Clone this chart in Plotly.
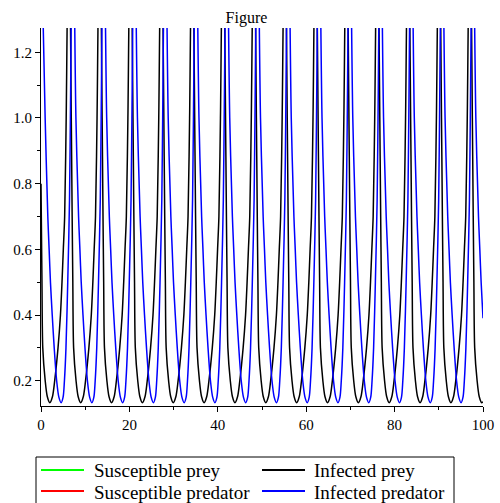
import plotly.graph_objects as go

# ---------------- data ----------------
# Infected prey (black)
black_t = [
    0.00, 0.07, 0.22, 0.40, 0.95, 1.42,
    2.00, 2.60, 3.10, 3.85, 4.40, 4.75, 5.05, 5.35, 5.70, 6.30, 6.85, 7.05, 7.20, 7.38, 7.93, 8.40,
    8.98, 9.58, 10.08, 10.83, 11.38, 11.73, 12.03, 12.33, 12.68, 13.28, 13.83, 14.03, 14.18, 14.36, 14.91, 15.38,
    15.96, 16.56, 17.06, 17.81, 18.36, 18.71, 19.01, 19.31, 19.66, 20.26, 20.81, 21.01, 21.16, 21.34, 21.89, 22.36,
    22.94, 23.54, 24.04, 24.79, 25.34, 25.69, 25.99, 26.29, 26.64, 27.24, 27.79, 27.99, 28.14, 28.32, 28.87, 29.34,
    29.92, 30.52, 31.02, 31.77, 32.32, 32.67, 32.97, 33.27, 33.62, 34.22, 34.77, 34.97, 35.12, 35.30, 35.85, 36.32,
    36.90, 37.50, 38.00, 38.75, 39.30, 39.65, 39.95, 40.25, 40.60, 41.20, 41.75, 41.95, 42.10, 42.28, 42.83, 43.30,
    43.88, 44.48, 44.98, 45.73, 46.28, 46.63, 46.93, 47.23, 47.58, 48.18, 48.73, 48.93, 49.08, 49.26, 49.81, 50.28,
    50.86, 51.46, 51.96, 52.71, 53.26, 53.61, 53.91, 54.21, 54.56, 55.16, 55.71, 55.91, 56.06, 56.24, 56.79, 57.26,
    57.84, 58.44, 58.94, 59.69, 60.24, 60.59, 60.89, 61.19, 61.54, 62.14, 62.69, 62.89, 63.04, 63.22, 63.77, 64.24,
    64.82, 65.42, 65.92, 66.67, 67.22, 67.57, 67.87, 68.17, 68.52, 69.12, 69.67, 69.87, 70.02, 70.20, 70.75, 71.22,
    71.80, 72.40, 72.90, 73.65, 74.20, 74.55, 74.85, 75.15, 75.50, 76.10, 76.65, 76.85, 77.00, 77.18, 77.73, 78.20,
    78.78, 79.38, 79.88, 80.63, 81.18, 81.53, 81.83, 82.13, 82.48, 83.08, 83.63, 83.83, 83.98, 84.16, 84.71, 85.18,
    85.76, 86.36, 86.86, 87.61, 88.16, 88.51, 88.81, 89.11, 89.46, 90.06, 90.61, 90.81, 90.96, 91.14, 91.69, 92.16,
    92.74, 93.34, 93.84, 94.59, 95.14, 95.49, 95.79, 96.09, 96.44, 97.04, 97.59, 97.79, 97.94, 98.12, 98.67, 99.14,
    99.72, 100.00,
]
black_y = [
    0.80, 0.70, 0.50, 0.30, 0.20, 0.152,
    0.133, 0.152, 0.20, 0.30, 0.40, 0.50, 0.60, 0.70, 1.00, 1.70, 1.00, 0.70, 0.50, 0.30, 0.20, 0.152,
    0.133, 0.152, 0.20, 0.30, 0.40, 0.50, 0.60, 0.70, 1.00, 1.70, 1.00, 0.70, 0.50, 0.30, 0.20, 0.152,
    0.133, 0.152, 0.20, 0.30, 0.40, 0.50, 0.60, 0.70, 1.00, 1.70, 1.00, 0.70, 0.50, 0.30, 0.20, 0.152,
    0.133, 0.152, 0.20, 0.30, 0.40, 0.50, 0.60, 0.70, 1.00, 1.70, 1.00, 0.70, 0.50, 0.30, 0.20, 0.152,
    0.133, 0.152, 0.20, 0.30, 0.40, 0.50, 0.60, 0.70, 1.00, 1.70, 1.00, 0.70, 0.50, 0.30, 0.20, 0.152,
    0.133, 0.152, 0.20, 0.30, 0.40, 0.50, 0.60, 0.70, 1.00, 1.70, 1.00, 0.70, 0.50, 0.30, 0.20, 0.152,
    0.133, 0.152, 0.20, 0.30, 0.40, 0.50, 0.60, 0.70, 1.00, 1.70, 1.00, 0.70, 0.50, 0.30, 0.20, 0.152,
    0.133, 0.152, 0.20, 0.30, 0.40, 0.50, 0.60, 0.70, 1.00, 1.70, 1.00, 0.70, 0.50, 0.30, 0.20, 0.152,
    0.133, 0.152, 0.20, 0.30, 0.40, 0.50, 0.60, 0.70, 1.00, 1.70, 1.00, 0.70, 0.50, 0.30, 0.20, 0.152,
    0.133, 0.152, 0.20, 0.30, 0.40, 0.50, 0.60, 0.70, 1.00, 1.70, 1.00, 0.70, 0.50, 0.30, 0.20, 0.152,
    0.133, 0.152, 0.20, 0.30, 0.40, 0.50, 0.60, 0.70, 1.00, 1.70, 1.00, 0.70, 0.50, 0.30, 0.20, 0.152,
    0.133, 0.152, 0.20, 0.30, 0.40, 0.50, 0.60, 0.70, 1.00, 1.70, 1.00, 0.70, 0.50, 0.30, 0.20, 0.152,
    0.133, 0.152, 0.20, 0.30, 0.40, 0.50, 0.60, 0.70, 1.00, 1.70, 1.00, 0.70, 0.50, 0.30, 0.20, 0.152,
    0.133, 0.152, 0.20, 0.30, 0.40, 0.50, 0.60, 0.70, 1.00, 1.70, 1.00, 0.70, 0.50, 0.30, 0.20, 0.152,
    0.133, 0.136,
]

# Infected predator (blue)
blue_t = [
    0.00, 0.94, 1.54, 1.84, 2.14, 2.54, 2.99, 3.54, 4.04,
    4.55, 5.00, 5.30, 5.65, 6.05, 6.45, 6.65, 7.20, 7.90, 8.50, 8.80, 9.10, 9.50, 9.95, 10.50, 11.00,
    11.51, 11.96, 12.26, 12.61, 13.01, 13.41, 13.61, 14.16, 14.86, 15.46, 15.76, 16.06, 16.46, 16.91, 17.46, 17.96,
    18.47, 18.92, 19.22, 19.57, 19.97, 20.37, 20.57, 21.12, 21.82, 22.42, 22.72, 23.02, 23.42, 23.87, 24.42, 24.92,
    25.43, 25.88, 26.18, 26.53, 26.93, 27.33, 27.53, 28.08, 28.78, 29.38, 29.68, 29.98, 30.38, 30.83, 31.38, 31.88,
    32.39, 32.84, 33.14, 33.49, 33.89, 34.29, 34.49, 35.04, 35.74, 36.34, 36.64, 36.94, 37.34, 37.79, 38.34, 38.84,
    39.35, 39.80, 40.10, 40.45, 40.85, 41.25, 41.45, 42.00, 42.70, 43.30, 43.60, 43.90, 44.30, 44.75, 45.30, 45.80,
    46.31, 46.76, 47.06, 47.41, 47.81, 48.21, 48.41, 48.96, 49.66, 50.26, 50.56, 50.86, 51.26, 51.71, 52.26, 52.76,
    53.27, 53.72, 54.02, 54.37, 54.77, 55.17, 55.37, 55.92, 56.62, 57.22, 57.52, 57.82, 58.22, 58.67, 59.22, 59.72,
    60.23, 60.68, 60.98, 61.33, 61.73, 62.13, 62.33, 62.88, 63.58, 64.18, 64.48, 64.78, 65.18, 65.63, 66.18, 66.68,
    67.19, 67.64, 67.94, 68.29, 68.69, 69.09, 69.29, 69.84, 70.54, 71.14, 71.44, 71.74, 72.14, 72.59, 73.14, 73.64,
    74.15, 74.60, 74.90, 75.25, 75.65, 76.05, 76.25, 76.80, 77.50, 78.10, 78.40, 78.70, 79.10, 79.55, 80.10, 80.60,
    81.11, 81.56, 81.86, 82.21, 82.61, 83.01, 83.21, 83.76, 84.46, 85.06, 85.36, 85.66, 86.06, 86.51, 87.06, 87.56,
    88.07, 88.52, 88.82, 89.17, 89.57, 89.97, 90.17, 90.72, 91.42, 92.02, 92.32, 92.62, 93.02, 93.47, 94.02, 94.52,
    95.03, 95.48, 95.78, 96.13, 96.53, 96.93, 97.13, 97.68, 98.38, 98.98, 99.28, 99.58, 100.00,
]
blue_y = [
    1.60, 1.00, 0.70, 0.60, 0.50, 0.40, 0.30, 0.20, 0.15,
    0.133, 0.15, 0.20, 0.30, 0.50, 0.75, 1.00, 1.70, 1.00, 0.70, 0.60, 0.50, 0.40, 0.30, 0.20, 0.15,
    0.133, 0.15, 0.20, 0.30, 0.50, 0.75, 1.00, 1.70, 1.00, 0.70, 0.60, 0.50, 0.40, 0.30, 0.20, 0.15,
    0.133, 0.15, 0.20, 0.30, 0.50, 0.75, 1.00, 1.70, 1.00, 0.70, 0.60, 0.50, 0.40, 0.30, 0.20, 0.15,
    0.133, 0.15, 0.20, 0.30, 0.50, 0.75, 1.00, 1.70, 1.00, 0.70, 0.60, 0.50, 0.40, 0.30, 0.20, 0.15,
    0.133, 0.15, 0.20, 0.30, 0.50, 0.75, 1.00, 1.70, 1.00, 0.70, 0.60, 0.50, 0.40, 0.30, 0.20, 0.15,
    0.133, 0.15, 0.20, 0.30, 0.50, 0.75, 1.00, 1.70, 1.00, 0.70, 0.60, 0.50, 0.40, 0.30, 0.20, 0.15,
    0.133, 0.15, 0.20, 0.30, 0.50, 0.75, 1.00, 1.70, 1.00, 0.70, 0.60, 0.50, 0.40, 0.30, 0.20, 0.15,
    0.133, 0.15, 0.20, 0.30, 0.50, 0.75, 1.00, 1.70, 1.00, 0.70, 0.60, 0.50, 0.40, 0.30, 0.20, 0.15,
    0.133, 0.15, 0.20, 0.30, 0.50, 0.75, 1.00, 1.70, 1.00, 0.70, 0.60, 0.50, 0.40, 0.30, 0.20, 0.15,
    0.133, 0.15, 0.20, 0.30, 0.50, 0.75, 1.00, 1.70, 1.00, 0.70, 0.60, 0.50, 0.40, 0.30, 0.20, 0.15,
    0.133, 0.15, 0.20, 0.30, 0.50, 0.75, 1.00, 1.70, 1.00, 0.70, 0.60, 0.50, 0.40, 0.30, 0.20, 0.15,
    0.133, 0.15, 0.20, 0.30, 0.50, 0.75, 1.00, 1.70, 1.00, 0.70, 0.60, 0.50, 0.40, 0.30, 0.20, 0.15,
    0.133, 0.15, 0.20, 0.30, 0.50, 0.75, 1.00, 1.70, 1.00, 0.70, 0.60, 0.50, 0.40, 0.30, 0.20, 0.15,
    0.133, 0.15, 0.20, 0.30, 0.50, 0.75, 1.00, 1.70, 1.00, 0.70, 0.60, 0.50, 0.39,
]

# Susceptible series: nothing of them is visible inside the plotted window
sprey_t, sprey_y = [], []
spred_t, spred_y = [], []

series_names = ["Susceptible prey", "Infected prey", "Susceptible predator", "Infected predator"]
series_colors = ["#00ff00", "#000000", "#ff0000", "#0000ff"]

x_range = [0, 100]
y_range = [0.123, 1.274]
title_text = "Figure"

# ---------------- figure ----------------
W, H = 500, 503
ML, MR, MT, MB = 41, 17, 28, 97
PW, PH = W - ML - MR, H - MT - MB

def px_x(px):
    return (px - ML) / PW

def px_y(py):
    return (H - MB - py) / PH

FONT = "Liberation Serif, Times New Roman, serif"

fig = go.Figure()
data = [(sprey_t, sprey_y), (black_t, black_y), (spred_t, spred_y), (blue_t, blue_y)]
for (tx, ty), name, col in zip(data, series_names, series_colors):
    fig.add_trace(go.Scatter(
        x=tx, y=ty, mode="lines", name=name,
        line=dict(color=col, width=1.5, shape="spline", smoothing=0.8),
        showlegend=False, hoverinfo="skip",
    ))

# hand-drawn legend box (two columns) below the plot
legend_cells = [
    (41, 470, 92), (262, 470, 312),
    (41, 491, 92), (262, 491, 312),
]
shapes = [dict(type="rect", xref="paper", yref="paper",
               x0=px_x(36), x1=px_x(454), y0=px_y(457), y1=px_y(515),
               line=dict(color="black", width=1), fillcolor="rgba(0,0,0,0)")]
annotations = []
for idx, (lx, ly, tx) in enumerate(legend_cells):
    shapes.append(dict(type="line", xref="paper", yref="paper",
                       x0=px_x(lx), x1=px_x(lx + 43), y0=px_y(ly), y1=px_y(ly),
                       line=dict(color=series_colors[idx], width=2)))
    annotations.append(dict(text=series_names[idx], xref="paper", yref="paper",
                            x=px_x(tx), y=px_y(ly + 1), xanchor="left", yanchor="middle",
                            showarrow=False, font=dict(family=FONT, size=19, color="black")))

axis_common = dict(
    showline=True, linecolor="black", linewidth=1, mirror=False,
    ticks="outside", ticklen=5, tickwidth=1, tickcolor="black",
    showgrid=False, zeroline=False,
    tickfont=dict(family=FONT, size=15, color="black"),
)

fig.update_layout(
    width=W, height=H,
    margin=dict(l=ML, r=MR, t=MT, b=MB, autoexpand=False),
    paper_bgcolor="white", plot_bgcolor="white",
    title=dict(text=title_text, x=0.493, xref="container", xanchor="center",
               y=1 - 17 / H, yref="container", yanchor="middle",
               font=dict(family=FONT, size=16, color="black")),
    xaxis=dict(range=x_range, tick0=0, dtick=20,
               minor=dict(ticks="outside", ticklen=3, dtick=10, tickcolor="black"),
               **axis_common),
    yaxis=dict(range=y_range, tick0=0, dtick=0.2, tickformat=".1f",
               minor=dict(ticks="outside", ticklen=3, dtick=0.1, tickcolor="black"),
               **axis_common),
    shapes=shapes, annotations=annotations,
    showlegend=False,
)

fig.write_html(
    "out.html",
    config={"displayModeBar": False},
    post_script="document.body.style.margin='0';document.body.style.overflow='hidden';",
)
